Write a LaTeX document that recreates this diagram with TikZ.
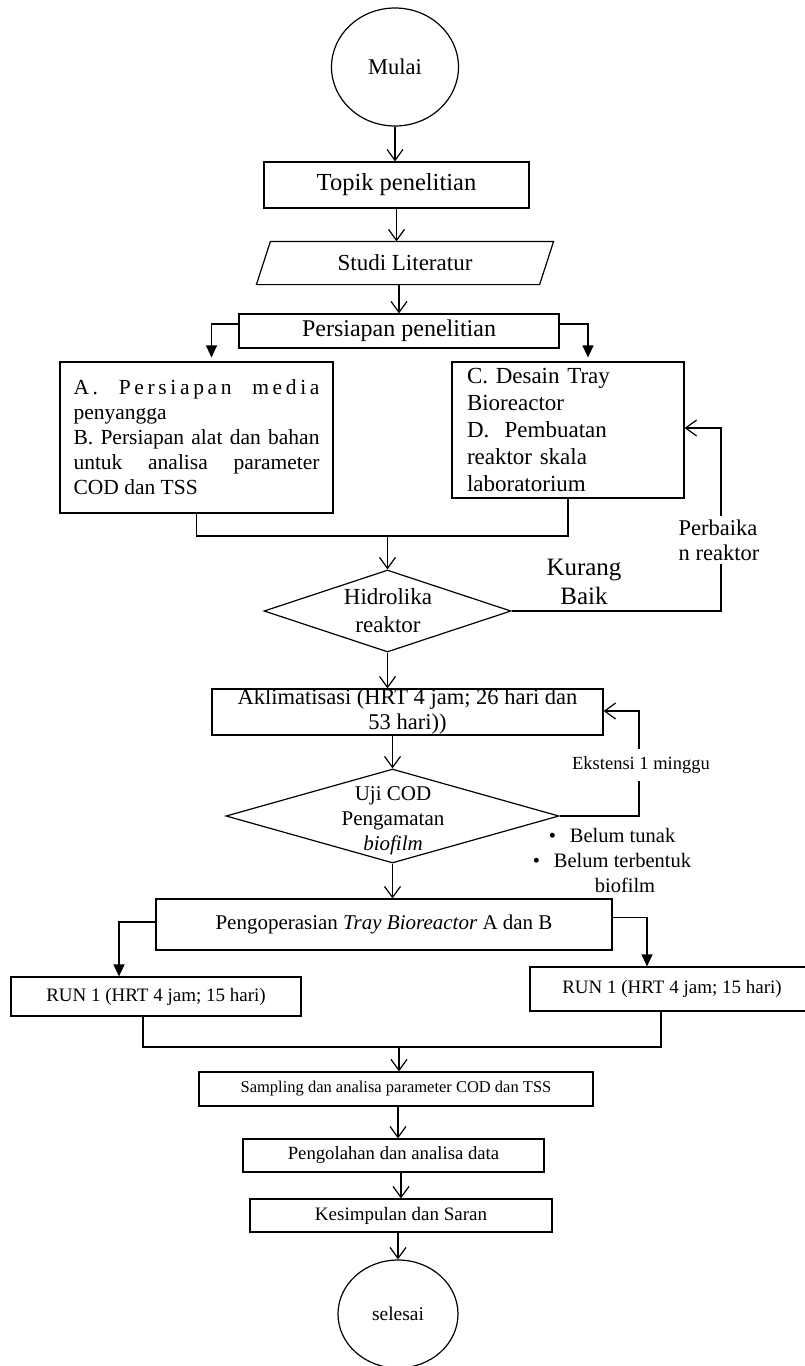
\documentclass[tikz,border=0pt]{standalone}
\usepackage{fontspec}
\setmainfont{Liberation Serif}
\usetikzlibrary{arrows.meta,shapes.geometric}
\newcommand{\fsz}[2]{\fontsize{#1pt}{#2pt}\selectfont}
\tikzset{
  box/.style={draw, rectangle, inner sep=0pt},
  term/.style={draw, ellipse, inner sep=0pt},
  dec/.style={draw, diamond, inner sep=0pt},
  flow/.style={-{Straight Barb[length=11pt,width=16pt]}},
  branch/.style={-{Triangle[length=12pt,width=11pt]}},
  lbl/.style={fill=white, inner xsep=1pt},
}
\begin{document}
\begin{tikzpicture}[x=1pt,y=-1pt,line width=1.2pt]
\useasboundingbox (0,0) rectangle (804,1366);

% start
\node[term, minimum width=127pt, minimum height=118pt, font=\fsz{22.5}{25}] (mulai) at (395,67) {Mulai};
\node[box, minimum width=265pt, minimum height=46pt, font=\fsz{24.5}{26}] (topik) at (396.5,185) {Topik penelitian};
\node[inner sep=0pt, minimum width=296pt, minimum height=42pt, font=\fsz{23}{26}] (studi) at (405,263) {Studi Literatur};
\draw ([xshift=14pt]studi.north west) -- (studi.north east) -- ([xshift=-14pt]studi.south east) -- (studi.south west) -- cycle;
\node[box, minimum width=320pt, minimum height=34pt, font=\fsz{24}{26}] (persiapan) at (399,331) {Persiapan penelitian};

\draw[flow] (mulai.south) -- (mulai.south |- topik.north);
\draw[flow] (topik.south) -- (topik.south |- studi.north);
\draw[flow] (persiapan.north |- studi.south) -- (persiapan.north);

% two preparation boxes
\node[box, minimum width=273pt, minimum height=151pt, text width=246pt, align=justify, font=\fsz{21.5}{25}] (ab) at (196.5,437.5)
  {{\addfontfeature{LetterSpace=17}A. Persiapan media}\linebreak penyangga\\
   B. Persiapan alat dan bahan\linebreak untuk analisa parameter\linebreak COD dan TSS};
\node[box, minimum width=232pt, minimum height=136pt, text width=202pt, align=left, font=\fsz{23}{26.8}] (cd) at (568,430)
  {C. Desain Tray\\Bioreactor\\D.\ \ Pembuatan\\reaktor skala\\laboratorium};

\draw[branch, shorten >=4pt] ([yshift=7pt]persiapan.west) -| ([xshift=15pt]ab.north);
\draw[branch, shorten >=4pt] ([yshift=7pt]persiapan.east) -| ([xshift=20pt]cd.north);

% hydraulics decision
\node[dec, minimum width=247pt, minimum height=82pt] (hidro) at (387.5,611) {};
\node[font=\fsz{23}{28}, align=center] (hidrotext) at (388,611) {Hidrolika\\reaktor};
\coordinate (j1) at (387.5,536);
\draw (ab.south) |- (j1) -| (cd.south);
\draw[flow] (j1) -- (hidro.north);

\node[font=\fsz{25}{29}, align=center] (kurang) at (584,582) {Kurang\\Baik};
\coordinate (c1) at (721,428);
\draw[flow] (hidro.east) -| (c1) -- (cd.east |- c1);
\node[lbl, inner ysep=3.5pt, font=\fsz{22.5}{25}, align=left] (perb) at (719,540) {Perbaika\\n reaktor};

% acclimatisation
\node[box, minimum width=391pt, minimum height=46pt, align=center, font=\fsz{22.5}{25}] (aklim) at (407.5,712) {Aklimatisasi (HRT 4 jam; 26 hari dan\\53 hari))};
\draw[flow] (hidro.south) -- (hidro.south |- aklim.north);

\node[dec, minimum width=333pt, minimum height=94pt] (uji) at (392.5,816) {};
\node[font=\fsz{21}{25}, align=center] (ujitext) at (393,821) {Uji COD\\Pengamatan\\\textit{biofilm}};
\draw[flow] (uji.north |- aklim.south) -- (uji.north);

\coordinate (c2) at (639,711);
\draw[flow] (uji.east) -| (c2) -- (aklim.east |- c2);
\node[lbl, inner ysep=8pt, font=\fsz{18.5}{22}] (eks) at (641,765) {Ekstensi 1 minggu};
\node[font=\fsz{20.5}{25}, align=center] (belum) at (612,860)
  {\textbullet\hspace{14pt}Belum tunak\\\textbullet\hspace{14pt}Belum terbentuk\\\hspace*{26pt}biofilm};

% operation
\node[box, minimum width=456pt, minimum height=51pt, font=\fsz{21}{25}] (pengop) at (384,924.5) {Pengoperasian \textit{Tray Bioreactor} A dan B};
\draw[flow] (uji.south) -- (uji.south |- pengop.north);

\node[box, minimum width=290pt, minimum height=39pt, font=\fsz{19}{22}] (runL) at (156,996.5) {RUN 1 (HRT 4 jam; 15 hari)};
\node[box, minimum width=284pt, minimum height=44pt, font=\fsz{19}{22}] (runR) at (672,989) {RUN 1 (HRT 4 jam; 15 hari)};
\draw[branch] ([yshift=2.5pt]pengop.west) -| ([xshift=-37pt]runL.north);
\draw[branch] ([yshift=7pt]pengop.east) -| ([xshift=-25pt]runR.north);

\coordinate (j2) at (399,1047);
\draw ([xshift=-13pt]runL.south) |- (j2) -| ([xshift=-11pt]runR.south);

% final steps
\node[box, minimum width=394pt, minimum height=34pt, font=\fsz{16.5}{20}] (sampling) at (396,1089) {Sampling dan analisa parameter COD dan TSS};
\draw[flow] (j2) -- (j2 |- sampling.north);
\node[box, minimum width=301pt, minimum height=33pt, font=\fsz{18.7}{22}] (pengolahan) at (393.5,1155.5) {Pengolahan dan analisa data};
\draw[flow] ([xshift=2pt]sampling.south) -- ([xshift=2pt]sampling.south |- pengolahan.north);
\node[box, minimum width=302pt, minimum height=33pt, font=\fsz{19}{22}] (kesimpulan) at (401,1215.5) {Kesimpulan dan Saran};
\draw[flow] (kesimpulan.north |- pengolahan.south) -- (kesimpulan.north);
\node[term, minimum width=120pt, minimum height=108pt, font=\fsz{19.5}{22}] (selesai) at (398,1314) {selesai};
\draw[flow] (selesai.north |- kesimpulan.south) -- (selesai.north);
\end{tikzpicture}
\end{document}
